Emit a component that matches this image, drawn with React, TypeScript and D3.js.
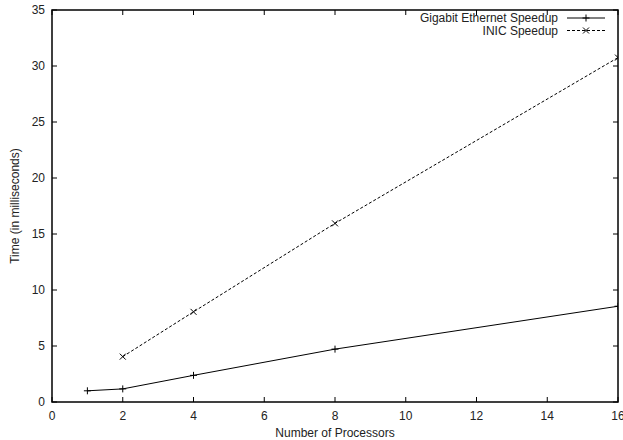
import React, { useRef, useEffect } from "react";
import * as d3 from "d3";

// datos
const processors = [1, 2, 4, 8, 16];
const gigabitSpeedup = [1.0, 1.17, 2.38, 4.72, 8.55];
const inicProcessors = [2, 4, 8, 16];
const inicSpeedup = [4.05, 8.05, 15.95, 30.75];
const xTicks = [0, 2, 4, 6, 8, 10, 12, 14, 16];
const yTicks = [0, 5, 10, 15, 20, 25, 30, 35];

const width = 623;
const height = 440;

const App = () => {
  const ref = useRef<SVGSVGElement>(null);

  useEffect(() => {
    const container = ref.current;
    if (!container) return;
    d3.select(container).selectChildren().remove();

    const margin = { top: 10, right: 5, bottom: 38, left: 52 };
    const x = d3.scaleLinear().domain([0, 16]).range([margin.left, width - margin.right]);
    const y = d3.scaleLinear().domain([0, 35]).range([height - margin.bottom, margin.top]);

    const svg = d3
      .select(container)
      .style("font-family", "'Liberation Sans', Arial, sans-serif")
      .style("font-size", "12px");

    const x0 = x(0), x1 = x(16), y0 = y(0), y1 = y(35);
    const tick = 5;

    // ticks (espejo en los cuatro lados)
    const ticks = svg.append("g").attr("stroke", "#000").attr("stroke-width", 1);
    xTicks.forEach((t) => {
      ticks.append("line").attr("x1", x(t)).attr("x2", x(t)).attr("y1", y0).attr("y2", y0 - tick);
      ticks.append("line").attr("x1", x(t)).attr("x2", x(t)).attr("y1", y1).attr("y2", y1 + tick);
    });
    yTicks.forEach((t) => {
      ticks.append("line").attr("x1", x0).attr("x2", x0 + tick).attr("y1", y(t)).attr("y2", y(t));
      ticks.append("line").attr("x1", x1).attr("x2", x1 - tick).attr("y1", y(t)).attr("y2", y(t));
    });

    svg
      .append("g")
      .selectAll("text")
      .data(xTicks)
      .enter()
      .append("text")
      .attr("x", (d) => x(d))
      .attr("y", y0 + 18)
      .attr("text-anchor", "middle")
      .attr("fill", "#222")
      .text((d) => d);

    svg
      .append("g")
      .selectAll("text")
      .data(yTicks)
      .enter()
      .append("text")
      .attr("x", x0 - 7)
      .attr("y", (d) => y(d) + 4)
      .attr("text-anchor", "end")
      .attr("fill", "#222")
      .text((d) => d);

    // rótulos de los ejes
    svg
      .append("text")
      .attr("x", (x0 + x1) / 2)
      .attr("y", height - 3)
      .attr("text-anchor", "middle")
      .attr("fill", "#222")
      .text("Number of Processors");

    svg
      .append("text")
      .attr("transform", `translate(19, ${(y0 + y1) / 2}) rotate(-90)`)
      .attr("text-anchor", "middle")
      .attr("fill", "#222")
      .text("Time (in milliseconds)");

    svg
      .append("defs")
      .append("clipPath")
      .attr("id", "plot-clip")
      .append("rect")
      .attr("x", x0)
      .attr("y", y1)
      .attr("width", x1 - x0)
      .attr("height", y0 - y1);

    const plot = svg.append("g").attr("clip-path", "url(#plot-clip)");
    const line = d3.line<[number, number]>().x((d) => x(d[0])).y((d) => y(d[1]));

    const gig: [number, number][] = processors.map((p, i) => [p, gigabitSpeedup[i]]);
    const inic: [number, number][] = inicProcessors.map((p, i) => [p, inicSpeedup[i]]);

    plot
      .append("path")
      .attr("d", line(gig))
      .attr("fill", "none")
      .attr("stroke", "#000")
      .attr("stroke-width", 1);

    plot
      .append("path")
      .attr("d", line(inic))
      .attr("fill", "none")
      .attr("stroke", "#000")
      .attr("stroke-width", 1)
      .attr("stroke-dasharray", "3,2");

    const m = 3.5;
    const plus = (g: any, cx: number, cy: number) => {
      g.append("path")
        .attr("d", `M${cx - m},${cy}H${cx + m}M${cx},${cy - m}V${cy + m}`)
        .attr("stroke", "#000")
        .attr("stroke-width", 1);
    };
    const cross = (g: any, cx: number, cy: number) => {
      const s = 3;
      g.append("path")
        .attr("d", `M${cx - s},${cy - s}L${cx + s},${cy + s}M${cx - s},${cy + s}L${cx + s},${cy - s}`)
        .attr("stroke", "#000")
        .attr("stroke-width", 1);
    };
    gig.forEach((d) => plus(plot, x(d[0]), y(d[1])));
    inic.forEach((d) => cross(plot, x(d[0]), y(d[1])));

    // leyenda
    const legend = svg.append("g");
    const lx0 = 567, lx1 = 605, textX = 558;
    const ly1 = 18, ly2 = 30.5;
    legend
      .append("text")
      .attr("x", textX)
      .attr("y", ly1 + 4)
      .attr("text-anchor", "end")
      .attr("fill", "#222")
      .text("Gigabit Ethernet Speedup");
    legend
      .append("line")
      .attr("x1", lx0)
      .attr("x2", lx1)
      .attr("y1", ly1)
      .attr("y2", ly1)
      .attr("stroke", "#000");
    plus(legend, (lx0 + lx1) / 2, ly1);

    legend
      .append("text")
      .attr("x", textX)
      .attr("y", ly2 + 4)
      .attr("text-anchor", "end")
      .attr("fill", "#222")
      .text("INIC Speedup");
    legend
      .append("line")
      .attr("x1", lx0)
      .attr("x2", lx1)
      .attr("y1", ly2)
      .attr("y2", ly2)
      .attr("stroke", "#000")
      .attr("stroke-dasharray", "3,2");
    cross(legend, (lx0 + lx1) / 2, ly2);

    // marco
    svg
      .append("rect")
      .attr("x", x0)
      .attr("y", y1)
      .attr("width", x1 - x0)
      .attr("height", y0 - y1)
      .attr("fill", "none")
      .attr("stroke", "#000")
      .attr("stroke-width", 1.5);
  }, []);

  return (
    <svg
      ref={ref}
      width={width}
      height={height}
      style={{ position: "absolute", left: 0, top: 0, background: "#fff" }}
    />
  );
};

export default App;
